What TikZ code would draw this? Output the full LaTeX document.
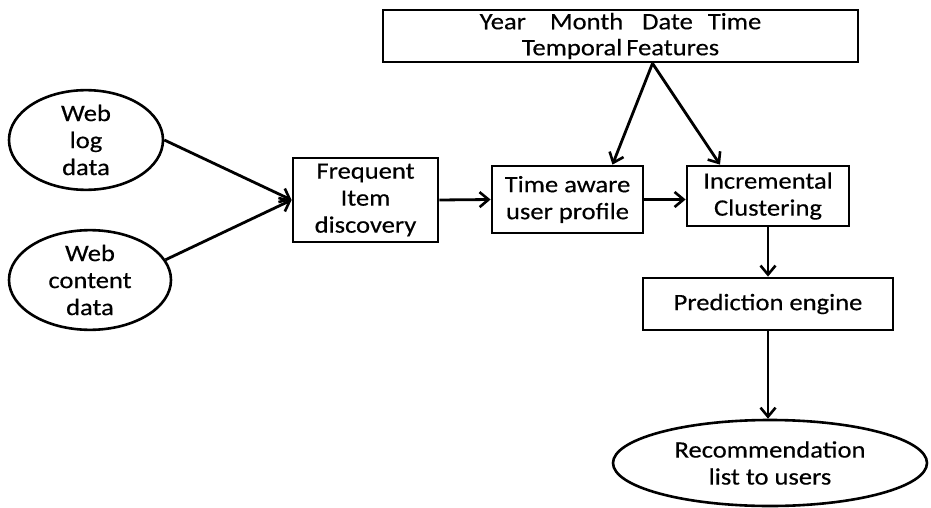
\documentclass[tikz,border=0pt]{standalone}
\usepackage{fontspec}
\setmainfont{Carlito}[FakeStretch=1.13,FakeBold=0.4]
\usetikzlibrary{arrows.meta,calc,shapes.geometric}

\begin{document}
\begin{tikzpicture}[x=1pt,y=-1pt,
  every node/.style={font=\fontsize{23.5}{27}\selectfont, align=center, inner sep=0pt},
  procbox/.style={draw, line width=2.8pt, rectangle},
  datasrc/.style={draw, line width=2.6pt, ellipse},
  flow/.style={draw, line width=2.8pt, -{Straight Barb[length=9pt,width=15pt,line width=2.6pt]}}
]
\useasboundingbox (0,0) rectangle (931,508);

% temporal features bar
\node[procbox, minimum width=475pt, minimum height=52pt] (temporal) at (620.5,36) {};
\node (temporaltext) at (620.5,36) {Year\hspace{24pt}Month\hspace{19pt}Date\hspace{15pt}Time\\[-1pt]Temporal\,Features};

% data sources
\node[datasrc, minimum width=154pt, minimum height=88pt] (weblog) at (86,140) {Web\\log\\data};
\node[datasrc, minimum width=162pt, minimum height=86pt] (webcontent) at (90,280) {Web\\content\\data};

% processing chain
\node[procbox, minimum width=145pt, minimum height=84pt] (freq) at (365.5,200) {Frequent\\Item\\discovery};
\node[procbox, minimum width=151pt, minimum height=67pt] (profile) at (567.5,199.5) {Time aware\\user profile};
\node[procbox, minimum width=162pt, minimum height=60pt] (cluster) at (768,196) {Incremental\\Clustering};
\node[procbox, minimum width=250pt, minimum height=52pt] (predict) at (768,304) {Prediction engine};
\node[datasrc, minimum width=314pt, minimum height=86pt] (recommend) at (770,463) {Recommendation\\list to users};

% connectors
\coordinate (tsplit) at ($(temporal.south)+(32,0)$);
\draw[flow] (weblog.east) -- (freq.west);
\draw[flow] (webcontent.15) -- (freq.west);
\draw[flow] (freq.east) -- (profile.west);
\draw[flow] (profile.east) -- (cluster.west |- profile.east);
\draw[flow] (tsplit) -- ($(profile.north)+(45,0)$);
\draw[flow] (tsplit) -- ($(cluster.north)+(-48,0)$);
\draw[flow] (cluster.south) -- (predict.north);
\draw[flow] (predict.south) -- (recommend.north -| predict.south);
\end{tikzpicture}
\end{document}
